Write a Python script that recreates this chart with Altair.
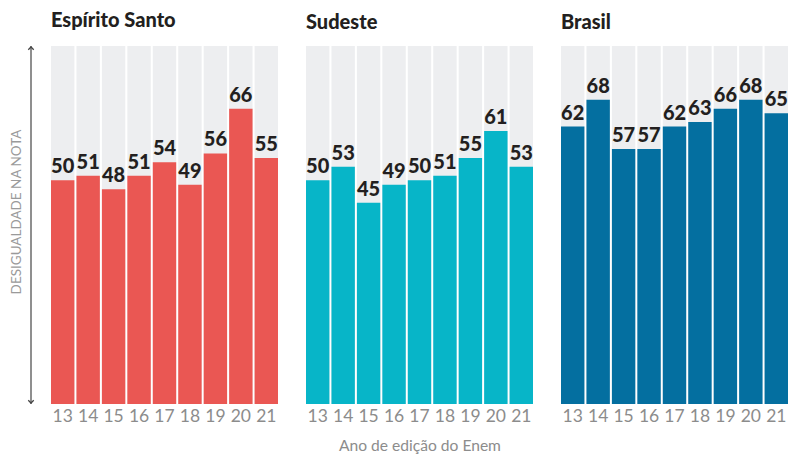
import altair as alt
import pandas as pd

years = ["13", "14", "15", "16", "17", "18", "19", "20", "21"]
regions = ["Espírito Santo", "Sudeste", "Brasil"]
es_values = [50, 51, 48, 51, 54, 49, 56, 66, 55]
se_values = [50, 53, 45, 49, 50, 51, 55, 61, 53]
br_values = [62, 68, 57, 57, 62, 63, 66, 68, 65]
colors = ["#EA5753", "#07B5C8", "#046FA0"]

FONT = "Lato"
H = 358
W = 227
GREY_TXT = "#8C8C8C"


def panel(name, values, color, width, first=False, xtitle=None):
    df = pd.DataFrame({"year": years, "value": values})
    axis_kw = dict(labelAngle=0, domain=False, ticks=False, labelColor=GREY_TXT,
                   labelFontSize=17.5, labelFont=FONT, labelPadding=3)
    if xtitle:
        axis_kw.update(title=xtitle, titleColor=GREY_TXT, titleFontSize=15.6, titleFont=FONT,
                       titleFontWeight="normal", titlePadding=14)
    else:
        axis_kw.update(title=None)
    x = alt.X("year:O", axis=alt.Axis(**axis_kw),
              scale=alt.Scale(paddingInner=0.08, paddingOuter=0))
    y = alt.Y("value:Q", scale=alt.Scale(domain=[0, 80]), axis=None)
    base = alt.Chart(df).encode(x=x)
    bg = base.mark_bar(color="#EDEEF0").encode(y=alt.value(0), y2=alt.value(H))
    bars = base.mark_bar(color=color).encode(y=y)
    txt = base.mark_text(dy=-3, baseline="bottom", fontSize=20, fontWeight=900,
                         font=FONT, color="#231F20").encode(y=y, text="value:Q")
    layers = [bg, bars, txt]
    if first:
        one = pd.DataFrame({"k": [0]})
        rule = alt.Chart(one).mark_rule(color="#6A6A6A", strokeWidth=1.5).encode(
            x=alt.value(-20), y=alt.value(0), y2=alt.value(H))
        up = alt.Chart(one).mark_point(shape="M -1 1 L 0 0 L 1 1", filled=False, size=30,
                                       strokeWidth=1.3, color="#444444", opacity=1).encode(
            x=alt.value(-20), y=alt.value(1))
        down = alt.Chart(one).mark_point(shape="M -1 -1 L 0 0 L 1 -1", filled=False, size=30,
                                         strokeWidth=1.3, color="#444444", opacity=1).encode(
            x=alt.value(-20), y=alt.value(H - 1))
        ytitle = alt.Chart(one).mark_text(text="DESIGUALDADE NA NOTA", angle=270, fontSize=13.5,
                                          color="#9A9A9A", font=FONT).encode(
            x=alt.value(-34), y=alt.value(166))
        layers += [rule, up, down, ytitle]
    return alt.layer(*layers).properties(
        width=width, height=H,
        title=alt.TitleParams(name, anchor="start", frame="group", fontSize=20, font=FONT,
                              fontWeight=900, color="#231F20", offset=13),
    )


chart = alt.hconcat(
    panel(regions[0], es_values, colors[0], W, first=True),
    panel(regions[1], se_values, colors[1], W, xtitle="Ano de edição do Enem"),
    panel(regions[2], br_values, colors[2], W),
    spacing=28,
).properties(padding={"left": 2, "right": 0, "top": 3, "bottom": 0}).configure_view(strokeWidth=0)

chart.save("out.html", embed_options={"renderer": "svg", "actions": False})
